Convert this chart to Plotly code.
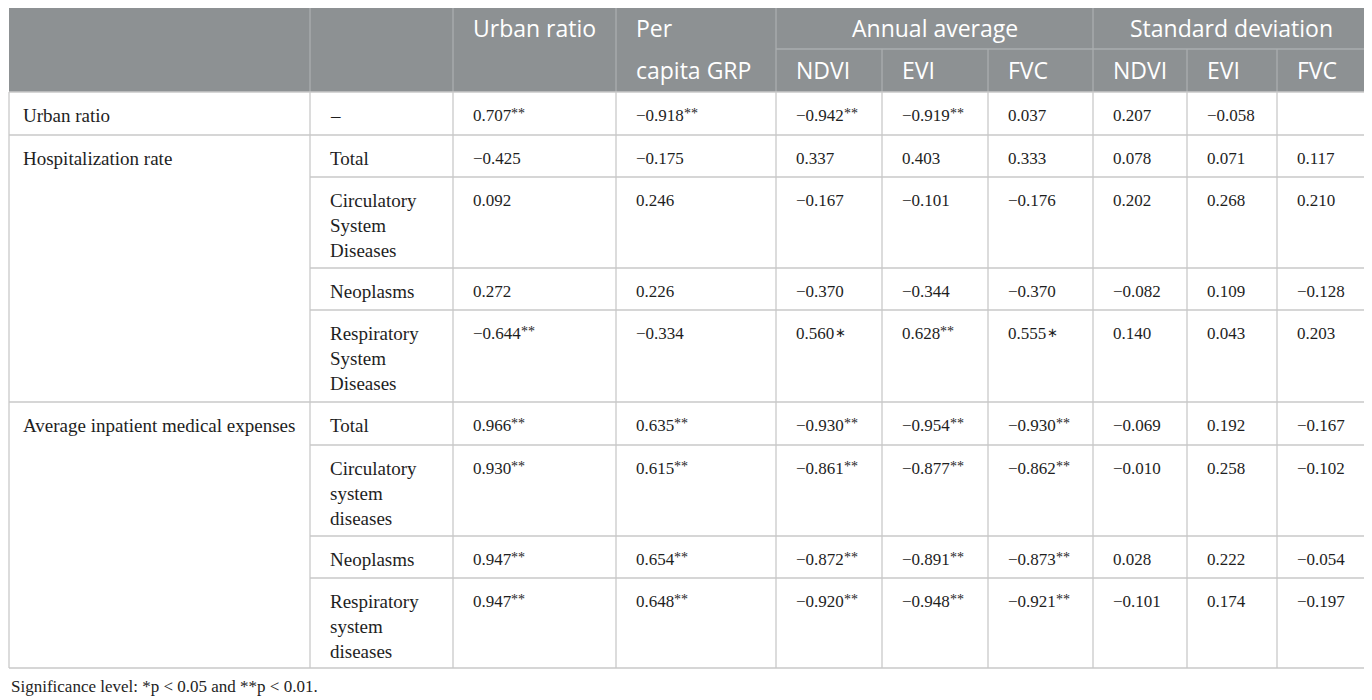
import plotly.graph_objects as go

# ---- table content ----
group_labels = ["Urban ratio", "Hospitalization rate", "Average inpatient medical expenses"]
group_rows = [[0], [1, 2, 3, 4], [5, 6, 7, 8]]

row_labels = [
    ["–"],
    ["Total"],
    ["Circulatory", "System", "Diseases"],
    ["Neoplasms"],
    ["Respiratory", "System", "Diseases"],
    ["Total"],
    ["Circulatory", "system", "diseases"],
    ["Neoplasms"],
    ["Respiratory", "system", "diseases"],
]

top_headers = ["Urban ratio", "Per", "Annual average", "Standard deviation"]
sub_headers = ["", "capita GRP", "NDVI", "EVI", "FVC", "NDVI", "EVI", "FVC"]

urban_ratio = [0.707, -0.425, 0.092, 0.272, -0.644, 0.966, 0.930, 0.947, 0.947]
grp = [-0.918, -0.175, 0.246, 0.226, -0.334, 0.635, 0.615, 0.654, 0.648]
ndvi_avg = [-0.942, 0.337, -0.167, -0.370, 0.560, -0.930, -0.861, -0.872, -0.920]
evi_avg = [-0.919, 0.403, -0.101, -0.344, 0.628, -0.954, -0.877, -0.891, -0.948]
fvc_avg = [0.037, 0.333, -0.176, -0.370, 0.555, -0.930, -0.862, -0.873, -0.921]
ndvi_sd = [0.207, 0.078, 0.202, -0.082, 0.140, -0.069, -0.010, 0.028, -0.101]
evi_sd = [-0.058, 0.071, 0.268, 0.109, 0.043, 0.192, 0.258, 0.222, 0.174]
fvc_sd = [None, 0.117, 0.210, -0.128, 0.203, -0.167, -0.102, -0.054, -0.197]

urban_sig = ["**", "", "", "", "**", "**", "**", "**", "**"]
grp_sig = ["**", "", "", "", "", "**", "**", "**", "**"]
ndvi_avg_sig = ["**", "", "", "", "*", "**", "**", "**", "**"]
evi_avg_sig = ["**", "", "", "", "**", "**", "**", "**", "**"]
fvc_avg_sig = ["", "", "", "", "*", "**", "**", "**", "**"]
ndvi_sd_sig = [""] * 9
evi_sd_sig = [""] * 9
fvc_sd_sig = [""] * 9

columns = [urban_ratio, grp, ndvi_avg, evi_avg, fvc_avg, ndvi_sd, evi_sd, fvc_sd]
sigs = [urban_sig, grp_sig, ndvi_avg_sig, evi_avg_sig, fvc_avg_sig, ndvi_sd_sig, evi_sd_sig, fvc_sd_sig]

footnote = "Significance level: *p &lt; 0.05 and **p &lt; 0.01."

# ---- grid geometry, in page pixels (page body has an 8px margin) ----
W, H = 1372, 700
off = 8
col_x = [9, 310, 453, 616, 776, 882, 988, 1093, 1187, 1277, 1369]
head_y = [8, 49, 92]
row_y = [92, 135, 177, 268, 310, 402, 445, 536, 578, 668]
group_x = 21
pad_x = 18
first_line = 23
line_gap = 25

head_bg = "#8d9193"
head_line = "#aaaeaf"
grid = "#c9c9c9"
ink = "#1e1e1e"
serif = "Liberation Serif"
sans = "Open Sans"
word_size = 19
num_size = 17
star_size = 14
head_size = 23

# Times-compatible advance widths (em) to place the star marks after a number
adv = {"0": 0.5, "1": 0.5, "2": 0.5, "3": 0.5, "4": 0.5, "5": 0.5, "6": 0.5,
       "7": 0.5, "8": 0.5, "9": 0.5, ".": 0.25, "−": 0.564}


def fmt(v):
    t = f"{abs(v):.3f}"
    return ("−" + t) if v < 0 else t


fig = go.Figure()
shapes = []
ann = []


def line(x0, y0, x1, y1, color, w=1.3):
    shapes.append(dict(type="line", xref="x", yref="y", x0=x0, y0=y0, x1=x1, y1=y1,
                       line=dict(color=color, width=w)))


def text(x, y, s, font, size, color, xanchor="left"):
    ann.append(dict(x=x, y=y, xref="x", yref="y", text=s, showarrow=False,
                    xanchor=xanchor, yanchor="middle",
                    font=dict(family=font, size=size, color=color)))


# header background
shapes.append(dict(type="rect", xref="x", yref="y", x0=col_x[0], y0=head_y[0],
                   x1=col_x[-1], y1=head_y[2], fillcolor=head_bg, line=dict(width=0), layer="below"))

# header separators
for x in [col_x[1], col_x[2], col_x[3], col_x[4], col_x[7]]:
    line(x, head_y[0], x, head_y[2], head_line)
for x in [col_x[5], col_x[6], col_x[8], col_x[9]]:
    line(x, head_y[1], x, head_y[2], head_line)
line(col_x[4], head_y[1], col_x[-1], head_y[1], head_line)

# header text
hy1 = 28
hy2 = 70
text(col_x[2] + pad_x, hy1, top_headers[0], sans, head_size, "white")
text(col_x[3] + pad_x, hy1, top_headers[1], sans, head_size, "white")
text((col_x[4] + col_x[7]) / 2, hy1, top_headers[2], sans, head_size, "white", "center")
text((col_x[7] + col_x[-1]) / 2, hy1, top_headers[3], sans, head_size, "white", "center")
for j, s in enumerate(sub_headers):
    if s:
        text(col_x[j + 2] + pad_x, hy2, s, sans, head_size, "white")

# body grid
for x in col_x:
    line(x, row_y[0], x, row_y[-1], grid)
for g, rows in enumerate(group_rows):
    top = row_y[rows[0]]
    line(col_x[0], top, col_x[-1], top, grid)
    for r in rows[1:]:
        line(col_x[1], row_y[r], col_x[-1], row_y[r], grid)
    text(group_x, top + first_line, group_labels[g], serif, word_size, ink)
line(col_x[0], row_y[-1], col_x[-1], row_y[-1], grid)

# body text
for r in range(len(row_labels)):
    top = row_y[r]
    y = top + first_line
    for k, part in enumerate(row_labels[r]):
        text(col_x[1] + pad_x, y + k * line_gap, part, serif, word_size, ink)
    for j in range(len(columns)):
        v = columns[j][r]
        if v is None:
            continue
        s = fmt(v)
        x = col_x[j + 2] + pad_x
        text(x, y, s, serif, num_size, ink)
        w = sum(adv[c] for c in s) * num_size
        mark = sigs[j][r]
        if mark == "**":
            text(x + w, y - 1.5, "**", serif, star_size, ink)
        elif mark == "*":
            text(x + w + 1, y - 1, "∗", serif, 13, ink)

text(9, 686, footnote, serif, 17, ink)

fig.update_layout(
    width=W - off, height=H - off,
    margin=dict(l=0, r=0, t=0, b=0),
    paper_bgcolor="white", plot_bgcolor="white",
    xaxis=dict(range=[off, W], visible=False, fixedrange=True),
    yaxis=dict(range=[H, off], visible=False, fixedrange=True),
    shapes=shapes, annotations=ann, showlegend=False,
)

fig.write_html("out.html")
